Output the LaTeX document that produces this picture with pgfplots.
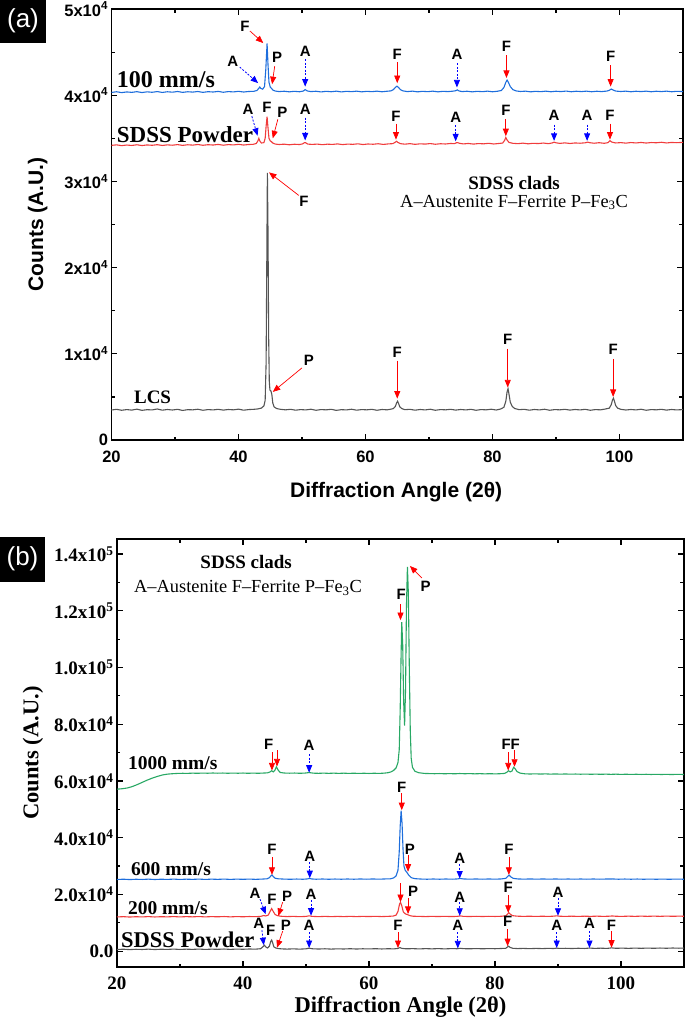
\documentclass[border=0pt]{standalone}
\usepackage{pgfplots}
\pgfplotsset{compat=1.18}
\usepackage{fontspec}
\setmainfont{Liberation Serif}
\setsansfont{Liberation Sans}
\usetikzlibrary{arrows.meta}

\definecolor{lcsgray}{RGB}{85,85,85}
\definecolor{pwdred}{RGB}{240,60,60}
\definecolor{sblue}{RGB}{30,110,220}
\definecolor{sgreen}{RGB}{40,168,100}

\newcommand{\pk}{\sffamily\bfseries\fontsize{15}{15}\selectfont}
\tikzset{
  ra/.style={red,line width=0.7pt,-{Triangle[length=7.5pt,width=6pt]}},
  ba/.style={blue,line width=0.8pt,dash pattern=on 2pt off 1.5pt,-{Triangle[length=7.5pt,width=6pt]}},
}
\pgfplotsset{
  xrdaxis/.style={
    scale only axis,
    xmin=20, xmax=110,
    xtick={20,40,60,80,100},
    xticklabels={20,40,60,80,100},
    minor xtick={30,50,70,90},
    scaled y ticks=false,
    tick align=inside,
    tick pos=both,
    major tick length=6pt,
    minor tick length=3.5pt,
    every tick/.style={black,line width=1.2pt},
    axis line style={line width=1.5pt},
    clip=false,
  },
}

\begin{document}
\begin{tikzpicture}
\useasboundingbox (0,0) rectangle (685pt,-1018pt);

% ---------------- panel (a)
\begin{axis}[
    xrdaxis,
    at={(111.5pt,-440pt)}, anchor=south west,
    width=571.5pt, height=431pt,
    ymin=0, ymax=50000,
    ytick={0,10000,20000,30000,40000,50000},
    yticklabels={0,1x10\textsuperscript{4},2x10\textsuperscript{4},3x10\textsuperscript{4},4x10\textsuperscript{4},5x10\textsuperscript{4}},
    minor ytick={5000,15000,25000,35000,45000},
    tick label style={font=\sffamily\bfseries\fontsize{16.5}{16.5}\selectfont},
    xticklabel style={yshift=-7pt},
    xlabel={Diffraction Angle (2θ)},
    ylabel={Counts (A.U.)},
    label style={font=\sffamily\bfseries\fontsize{21}{21}\selectfont},
    xlabel style={at={(axis description cs:0.498,-0.121)}, anchor=center},
    ylabel style={at={(axis description cs:-0.129,0.5)}, anchor=center},
]

% LCS
\addplot[lcsgray, line width=1.1pt] coordinates {
(20,3480) (20.8,3560) (21.6,3450) (22.4,3530) (23.2,3470) (24,3580) (24.8,3440) (25.6,3520)
(26.4,3490) (27.2,3600) (28,3460) (28.8,3540) (29.6,3480) (30.4,3560) (31.2,3430) (32,3520)
(32.8,3500) (33.6,3570) (34.4,3450) (35.2,3530) (36,3490) (36.8,3560) (37.6,3470) (38.4,3540)
(39.2,3500) (40,3580) (40.8,3460) (41.6,3530) (42.4,3560) (43,3600) (43.6,3700) (44,3950)
(44.2,4600) (44.35,9000) (44.45,20000) (44.55,31000) (44.65,24000) (44.75,12000) (44.85,6800)
(44.95,5800) (45.1,5700) (45.25,5300) (45.4,4300) (45.6,3850) (46,3650) (46.6,3560) (47.4,3500)
(48.2,3560) (49,3460) (49.8,3530) (50.6,3490) (51.4,3570) (52.2,3450) (53,3530) (53.8,3500)
(54.6,3560) (55.4,3440) (56.2,3520) (57,3490) (57.8,3570) (58.6,3460) (59.4,3530) (60.2,3500)
(61,3560) (61.8,3450) (62.6,3540) (63.4,3500) (64,3580) (64.4,3650) (64.7,3900) (64.9,4300)
(65.05,4500) (65.2,4250) (65.4,3850) (65.7,3650) (66.2,3520) (67,3560) (67.8,3460) (68.6,3540)
(69.4,3490) (70.2,3570) (71,3450) (71.8,3530) (72.6,3500) (73.4,3560) (74.2,3470) (75,3540)
(75.8,3490) (76.6,3560) (77.4,3450) (78.2,3530) (79,3500) (79.8,3570) (80.6,3480) (81.3,3600)
(81.8,3800) (82.1,4500) (82.3,5600) (82.45,5950) (82.6,5300) (82.8,4400) (83.1,3900) (83.5,3650)
(84.2,3520) (85,3560) (85.8,3460) (86.6,3540) (87.4,3490) (88.2,3570) (89,3450) (89.8,3530)
(90.6,3500) (91.4,3560) (92.2,3470) (93,3540) (93.8,3490) (94.6,3560) (95.4,3450) (96.2,3530)
(97,3500) (97.8,3600) (98.4,3700) (98.7,4100) (98.9,4650) (99.05,4850) (99.2,4500) (99.4,4000)
(99.7,3700) (100.2,3560) (101,3480) (101.8,3540) (102.6,3490) (103.4,3570) (104.2,3450)
(105,3530) (105.8,3500) (106.6,3560) (107.4,3470) (108.2,3540) (109,3490) (110,3530)
};

% SDSS powder
\addplot[pwdred, line width=1.1pt] coordinates {
(20,34180) (20.8,34240) (21.6,34150) (22.4,34220) (23.2,34170) (24,34250) (24.8,34160)
(25.6,34230) (26.4,34190) (27.2,34260) (28,34170) (28.8,34240) (29.6,34200) (30.4,34270)
(31.2,34180) (32,34250) (32.8,34210) (33.6,34280) (34.4,34190) (35.2,34260) (36,34220)
(36.8,34290) (37.6,34200) (38.4,34270) (39.2,34230) (40,34300) (40.8,34220) (41.6,34280)
(42.3,34300) (42.8,34400) (43.05,34700) (43.2,35000) (43.35,34700) (43.6,34450) (44,34500)
(44.2,35000) (44.35,36400) (44.5,37500) (44.65,36200) (44.8,35000) (45.0,34700) (45.2,34600)
(45.4,34450) (45.8,34330) (46.4,34280) (47.2,34320) (48,34250) (48.8,34310) (49.6,34280)
(50.1,34350) (50.4,34500) (50.6,34480) (50.9,34330) (51.6,34290) (52.4,34330) (53.2,34260)
(54,34320) (54.8,34290) (55.6,34350) (56.4,34270) (57.2,34330) (58,34300) (58.8,34360)
(59.6,34280) (60.4,34340) (61.2,34310) (62,34370) (62.8,34290) (63.6,34350) (64.3,34380)
(64.7,34550) (64.9,34650) (65.1,34520) (65.5,34380) (66.2,34320) (67,34380) (67.8,34300)
(68.6,34360) (69.4,34330) (70.2,34390) (71,34310) (71.8,34370) (72.6,34340) (73.4,34400)
(74.0,34380) (74.3,34480) (74.5,34500) (74.8,34420) (75.4,34350) (76.2,34400) (77,34330)
(77.8,34390) (78.6,34360) (79.4,34420) (80.2,34340) (81,34400) (81.6,34450) (81.9,34750)
(82.1,35100) (82.3,34800) (82.6,34520) (83.2,34420) (84,34380) (84.8,34440) (85.6,34360)
(86.4,34420) (87.2,34390) (88,34450) (88.8,34380) (89.4,34460) (89.7,34550) (90,34480)
(90.6,34410) (91.4,34470) (92.2,34400) (93,34460) (93.8,34430) (94.6,34480) (95,34560)
(95.3,34490) (96,34430) (96.8,34490) (97.6,34420) (98.2,34500) (98.5,34720) (98.8,34560)
(99.4,34460) (100.2,34500) (101,34440) (101.8,34510) (102.6,34460) (103.4,34520) (104.2,34450)
(105,34510) (105.8,34480) (106.6,34540) (107.4,34460) (108.2,34520) (109,34490) (110,34530)
};

% 100 mm/s
\addplot[sblue, line width=1.1pt] coordinates {
(20,40320) (20.8,40400) (21.6,40300) (22.4,40380) (23.2,40330) (24,40410) (24.8,40310)
(25.6,40390) (26.4,40340) (27.2,40420) (28,40320) (28.8,40400) (29.6,40350) (30.4,40430)
(31.2,40330) (32,40400) (32.8,40360) (33.6,40430) (34.4,40330) (35.2,40410) (36,40370)
(36.8,40440) (37.6,40340) (38.4,40420) (39.2,40380) (40,40450) (40.8,40370) (41.6,40430)
(42.4,40450) (42.9,40550) (43.2,40800) (43.35,40950) (43.5,40800) (43.8,40700) (44.1,41000)
(44.3,43000) (44.5,46000) (44.65,43500) (44.8,41500) (45.0,40950) (45.2,40800) (45.4,40600)
(45.8,40480) (46.4,40420) (47.2,40460) (48,40390) (48.8,40450) (49.6,40400) (50.2,40480)
(50.5,40650) (50.8,40500) (51.4,40420) (52.2,40460) (53,40380) (53.8,40450) (54.6,40400)
(55.4,40470) (56.2,40380) (57,40450) (57.8,40410) (58.6,40470) (59.4,40390) (60.2,40450)
(61,40410) (61.8,40470) (62.6,40400) (63.4,40460) (64.0,40500) (64.4,40650) (64.7,40900)
(64.95,41050) (65.2,40900) (65.5,40650) (65.9,40500) (66.6,40420) (67.4,40470) (68.2,40390)
(69,40450) (69.8,40410) (70.6,40470) (71.4,40390) (72.2,40450) (73,40420) (73.8,40470)
(74.2,40520) (74.45,40620) (74.7,40500) (75.2,40420) (76,40460) (76.8,40390) (77.6,40450)
(78.4,40410) (79.2,40470) (80,40400) (80.8,40460) (81.4,40550) (81.8,40900) (82.1,41500)
(82.3,41750) (82.5,41500) (82.8,41000) (83.2,40650) (83.7,40500) (84.4,40430) (85.2,40470)
(86,40390) (86.8,40450) (87.6,40410) (88.4,40470) (89.2,40400) (90,40460) (90.8,40420)
(91.6,40480) (92.4,40400) (93.2,40460) (94,40420) (94.8,40470) (95.6,40400) (96.4,40460)
(97.2,40420) (98,40480) (98.4,40570) (98.7,40720) (99.0,40600) (99.4,40480) (100.2,40430)
(101,40470) (101.8,40400) (102.6,40460) (103.4,40420) (104.2,40470) (105,40400) (105.8,40460)
(106.6,40420) (107.4,40470) (108.2,40400) (109,40450) (110,40420)
};

% sample names
\node[anchor=west, font=\bfseries\fontsize{24}{24}\selectfont] at (axis cs:20.3,41860) {100 mm/s};
\node[anchor=west, font=\bfseries\fontsize{23}{23}\selectfont] at (axis cs:20.3,35470) {SDSS Powder};
\node[anchor=west, font=\bfseries\fontsize{19}{19}\selectfont] at (axis cs:23.0,5000) {LCS};
\node[font=\bfseries\fontsize{19}{19}\selectfont] at (axis cs:83.4,29770) {SDSS clads};
\node[font=\fontsize{18.4}{18.4}\selectfont] at (axis cs:83.4,27560) {A--Austenite F--Ferrite P--Fe\textsubscript{3}C};

% peak labels, 100 mm/s
\node[font=\pk] at (axis cs:41.0,48000) {F};
\draw[ra] (axis cs:41.8,47450) -- (axis cs:43.9,46050);
\node[font=\pk] at (axis cs:39.1,43950) {A};
\draw[ba] (axis cs:40.2,43260) -- (axis cs:43.1,41400);
\node[font=\pk] at (axis cs:46.1,44420) {P};
\draw[ra] (axis cs:45.7,43370) -- (axis cs:45.3,41280);
\node[font=\pk] at (axis cs:50.5,45120) {A};
\draw[ba] (axis cs:50.5,44200) -- (axis cs:50.5,41000);
\node[font=\pk] at (axis cs:65.0,44770) {F};
\draw[ra] (axis cs:65.0,43800) -- (axis cs:65.0,41400);
\node[font=\pk] at (axis cs:74.4,44770) {A};
\draw[ba] (axis cs:74.4,43700) -- (axis cs:74.4,40900);
\node[font=\pk] at (axis cs:82.2,45700) {F};
\draw[ra] (axis cs:82.2,44650) -- (axis cs:82.2,42000);
\node[font=\pk] at (axis cs:98.6,44540) {F};
\draw[ra] (axis cs:98.6,43500) -- (axis cs:98.6,41000);

% peak labels, SDSS powder
\node[font=\pk] at (axis cs:41.5,38370) {A};
\draw[ba] (axis cs:42.1,37560) -- (axis cs:43.0,35300);
\node[font=\pk] at (axis cs:44.5,38600) {F};
\node[font=\pk] at (axis cs:46.9,38020) {P};
\draw[ra] (axis cs:46.2,37210) -- (axis cs:45.4,35000);
\node[font=\pk] at (axis cs:50.5,38370) {A};
\draw[ba] (axis cs:50.5,37400) -- (axis cs:50.5,34750);
\node[font=\pk] at (axis cs:64.8,37560) {F};
\draw[ra] (axis cs:64.8,36700) -- (axis cs:64.8,34850);
\node[font=\pk] at (axis cs:74.2,37440) {A};
\draw[ba] (axis cs:74.2,36500) -- (axis cs:74.2,34650);
\node[font=\pk] at (axis cs:82.1,38260) {F};
\draw[ra] (axis cs:82.1,37200) -- (axis cs:82.1,35250);
\node[font=\pk] at (axis cs:89.7,37670) {A};
\draw[ba] (axis cs:89.7,36600) -- (axis cs:89.7,34700);
\node[font=\pk] at (axis cs:94.9,37670) {A};
\draw[ba] (axis cs:94.9,36600) -- (axis cs:94.9,34700);
\node[font=\pk] at (axis cs:98.5,37670) {F};
\draw[ra] (axis cs:98.5,36700) -- (axis cs:98.5,34850);

% peak labels, LCS
\node[font=\pk] at (axis cs:50.3,27670) {F};
\draw[ra] (axis cs:49.5,28370) -- (axis cs:44.8,31050);
\node[font=\pk] at (axis cs:51.1,9300) {P};
\draw[ra] (axis cs:50.0,8370) -- (axis cs:45.4,5580);
\node[font=\pk] at (axis cs:65.0,10120) {F};
\draw[ra] (axis cs:65.0,9200) -- (axis cs:65.0,4800);
\node[font=\pk] at (axis cs:82.4,11630) {F};
\draw[ra] (axis cs:82.4,10600) -- (axis cs:82.4,6100);
\node[font=\pk] at (axis cs:99.0,10470) {F};
\draw[ra] (axis cs:99.0,9400) -- (axis cs:99.0,5000);
\end{axis}

% ---------------- panel (b)
\begin{axis}[
    xrdaxis,
    at={(117pt,-967pt)}, anchor=south west,
    width=567pt, height=428pt,
    ymin=-5600, ymax=145300,
    ytick={0,20000,40000,60000,80000,100000,120000,140000},
    yticklabels={0.0,2.0x10\textsuperscript{4},4.0x10\textsuperscript{4},6.0x10\textsuperscript{4},8.0x10\textsuperscript{4},1.0x10\textsuperscript{5},1.2x10\textsuperscript{5},1.4x10\textsuperscript{5}},
    minor ytick={10000,30000,50000,70000,90000,110000,130000},
    tick label style={font=\bfseries\fontsize{19}{19}\selectfont},
    xticklabel style={yshift=-6pt},
    xlabel={Diffraction Angle (2θ)},
    ylabel={Counts (A.U.)},
    label style={font=\bfseries\fontsize{22.5}{22.5}\selectfont},
    xlabel style={at={(axis description cs:0.5,-0.093)}, anchor=center},
    ylabel style={at={(axis description cs:-0.148,0.5)}, anchor=center},
]

% SDSS powder
\addplot[lcsgray, line width=1.1pt] coordinates {
(20,560) (21,680) (22,540) (23,650) (24,580) (25,700) (26,560) (27,670) (28,610) (29,720)
(30,590) (31,690) (32,620) (33,730) (34,600) (35,700) (36,640) (37,740) (38,620) (39,720)
(40,660) (41,750) (42,700) (42.8,850) (43.2,1600) (43.4,2100) (43.6,1500) (43.9,1100)
(44.2,1800) (44.4,3400) (44.55,3900) (44.7,3000) (44.9,1500) (45.2,1100) (45.6,900) (46.2,780)
(47,720) (48,800) (49,700) (50,820) (50.5,1050) (51,830) (52,740) (53,830) (54,720) (55,810)
(56,750) (57,850) (58,740) (59,830) (60,770) (61,860) (62,760) (63,840) (64,800) (64.6,950)
(64.9,1250) (65.2,980) (65.8,830) (67,870) (68,780) (69,880) (70,800) (71,890) (72,790)
(73,880) (74,850) (74.5,1000) (75,870) (76,820) (77,910) (78,820) (79,900) (80,850) (81,930)
(81.7,1000) (82.0,1500) (82.15,1750) (82.4,1300) (82.8,1000) (83.6,900) (84.5,960) (85.5,870)
(86.5,960) (87.5,890) (88.5,980) (89.3,920) (89.8,1050) (90.3,950) (91.2,1000) (92.2,920)
(93.2,1010) (94.2,940) (95,1080) (95.8,970) (96.8,1040) (97.8,960) (98.5,1150) (99.2,1000)
(100.2,1060) (101.2,980) (102.2,1070) (103.2,990) (104.2,1080) (105.2,1000) (106.2,1090)
(107.2,1010) (108.2,1100) (109.2,1030) (110,1090)
};

% 200 mm/s
\addplot[pwdred, line width=1.1pt] coordinates {
(20,12050) (21,12150) (22,12020) (23,12130) (24,12060) (25,12170) (26,12040) (27,12140)
(28,12080) (29,12180) (30,12060) (31,12160) (32,12090) (33,12190) (34,12070) (35,12170)
(36,12100) (37,12200) (38,12080) (39,12180) (40,12110) (41,12200) (42,12150) (42.8,12250)
(43.3,12550) (43.6,12400) (44.0,12700) (44.3,14000) (44.55,15000) (44.8,14000) (45.1,12900)
(45.5,12500) (46,12300) (47,12180) (48,12250) (49,12150) (50,12240) (50.5,12450) (51,12250)
(52,12160) (53,12250) (54,12160) (55,12240) (56,12170) (57,12260) (58,12170) (59,12250)
(60,12190) (61,12270) (62,12180) (63,12260) (63.8,12350) (64.3,12700) (64.6,14000)
(64.85,16600) (65.0,17200) (65.2,16000) (65.45,13800) (65.8,13100) (66.1,12900) (66.5,12500)
(67,12300) (68,12250) (69,12180) (70,12260) (71,12190) (72,12270) (73,12190) (74,12250)
(74.5,12420) (75,12250) (76,12200) (77,12280) (78,12200) (79,12280) (80,12220) (81,12290)
(81.7,12450) (82.0,13100) (82.2,13500) (82.45,13000) (82.8,12500) (83.5,12330) (84.5,12250)
(85.5,12310) (86.5,12230) (87.5,12310) (88.5,12240) (89.3,12330) (89.8,12450) (90.3,12300)
(91.2,12250) (92.2,12320) (93.2,12240) (94.2,12320) (95.2,12260) (96.2,12330) (97.2,12250)
(98.2,12320) (98.6,12400) (99.2,12290) (100.2,12260) (101.2,12330) (102.2,12260) (103.2,12340)
(104.2,12270) (105.2,12340) (106.2,12270) (107.2,12350) (108.2,12280) (109.2,12340) (110,12300)
};

% 600 mm/s
\addplot[sblue, line width=1.1pt] coordinates {
(20,25250) (21,25360) (22,25230) (23,25340) (24,25270) (25,25380) (26,25250) (27,25350)
(28,25290) (29,25390) (30,25270) (31,25370) (32,25300) (33,25400) (34,25280) (35,25380)
(36,25310) (37,25400) (38,25290) (39,25390) (40,25320) (41,25400) (42,25310) (43,25400)
(43.8,25500) (44.2,25900) (44.45,26600) (44.6,26850) (44.8,26300) (45.1,25700) (45.6,25500)
(46.5,25400) (47.5,25330) (48.5,25420) (49.5,25340) (50.2,25450) (50.55,25650) (50.9,25450)
(51.6,25350) (52.6,25430) (53.6,25340) (54.6,25420) (55.6,25350) (56.6,25430) (57.6,25350)
(58.6,25440) (59.6,25360) (60.6,25440) (61.6,25370) (62.6,25450) (63.4,25500) (63.9,25800)
(64.3,26500) (64.6,28500) (64.8,35000) (64.95,44000) (65.1,49500) (65.25,45000) (65.4,36000)
(65.55,30000) (65.75,28500) (66.0,27800) (66.3,26800) (66.7,25900) (67.3,25550) (68.2,25420)
(69.2,25350) (70.2,25430) (71.2,25350) (72.2,25430) (73.2,25360) (74.0,25450) (74.5,25600)
(75.0,25450) (76,25370) (77,25440) (78,25360) (79,25440) (80,25370) (81,25450) (81.7,25650)
(82.0,26300) (82.25,26800) (82.5,26200) (82.9,25650) (83.6,25450) (84.6,25380) (85.6,25450)
(86.6,25370) (87.6,25440) (88.6,25370) (89.6,25440) (90.6,25360) (91.6,25430) (92.6,25360)
(93.6,25430) (94.6,25360) (95.6,25430) (96.6,25360) (97.6,25420) (98.6,25450) (99.6,25350)
(100.6,25420) (101.6,25350) (102.6,25420) (103.6,25340) (104.6,25410) (105.6,25340)
(106.6,25410) (107.6,25330) (108.6,25400) (110,25350)
};

% 1000 mm/s
\addplot[sgreen, line width=1.1pt] coordinates {
(20,57100) (20.8,57250) (21.6,57500) (22.4,58000) (23.2,58700) (24,59500) (24.8,60300)
(25.6,61000) (26.4,61600) (27.2,62100) (28,62400) (28.8,62550) (29.6,62650) (30.4,62700)
(31.2,62680) (32,62750) (32.8,62700) (33.6,62780) (34.4,62720) (35.2,62800) (36,62730)
(36.8,62790) (37.6,62710) (38.4,62780) (39.2,62720) (40,62790) (40.8,62700) (41.6,62770)
(42.4,62700) (43.2,62780) (43.9,62850) (44.3,63200) (44.55,63600) (44.8,63200) (45.05,63700)
(45.3,65000) (45.55,63900) (45.9,63000) (46.5,62800) (47.4,62730) (48.2,62790) (49,62700)
(49.8,62770) (50.5,62950) (51.2,62740) (52,62690) (52.8,62760) (53.6,62680) (54.4,62750)
(55.2,62670) (56,62740) (56.8,62660) (57.6,62730) (58.4,62650) (59.2,62720) (60,62640)
(60.8,62720) (61.6,62660) (62.4,62750) (63.0,62900) (63.5,63200) (63.9,63700) (64.3,64600)
(64.6,66500) (64.8,71000) (64.95,85000) (65.1,105000) (65.2,116000) (65.35,108000)
(65.5,88000) (65.65,79500) (65.8,92000) (65.95,122000) (66.1,135500) (66.25,126000)
(66.4,100000) (66.55,78000) (66.7,68000) (66.9,64800) (67.3,63400) (67.9,62900) (68.8,62650)
(69.6,62600) (70.4,62550) (71.2,62610) (72,62530) (72.8,62590) (73.6,62520) (74.4,62620)
(75.2,62540) (76,62590) (76.8,62510) (77.6,62570) (78.4,62500) (79.2,62560) (80,62490)
(80.8,62550) (81.5,62650) (81.9,63100) (82.15,63600) (82.4,63200) (82.7,63500) (82.95,64800)
(83.2,64300) (83.5,63300) (84,62750) (84.8,62500) (85.6,62450) (86.4,62510) (87.2,62430)
(88,62490) (88.8,62410) (89.6,62470) (90.4,62400) (91.2,62460) (92,62380) (92.8,62440)
(93.6,62370) (94.4,62430) (95.2,62350) (96,62410) (96.8,62340) (97.6,62400) (98.4,62330)
(99.2,62390) (100,62310) (100.8,62370) (101.6,62300) (102.4,62360) (103.2,62290) (104,62350)
(104.8,62280) (105.6,62340) (106.4,62270) (107.2,62330) (108,62260) (108.8,62320) (110,62280)
};

% sample names
\node[anchor=west, font=\bfseries\fontsize{19.5}{19.5}\selectfont] at (axis cs:21.2,66300) {1000 mm/s};
\node[anchor=west, font=\bfseries\fontsize{19.5}{19.5}\selectfont] at (axis cs:21.7,28920) {600 mm/s};
\node[anchor=west, font=\bfseries\fontsize{19.5}{19.5}\selectfont] at (axis cs:21.2,15170) {200 mm/s};
\node[anchor=west, font=\bfseries\fontsize{22.5}{22.5}\selectfont] at (axis cs:20.1,3880) {SDSS Powder};
\node[font=\bfseries\fontsize{19}{19}\selectfont] at (axis cs:40.5,137200) {SDSS clads};
\node[font=\fontsize{18.4}{18.4}\selectfont] at (axis cs:40.8,128000) {A--Austenite F--Ferrite P--Fe\textsubscript{3}C};

% peak labels, 1000 mm/s
\node[font=\pk] at (axis cs:44.1,73000) {F};
\draw[ra] (axis cs:44.6,70190) -- (axis cs:44.6,63700);
\draw[ra] (axis cs:45.4,70900) -- (axis cs:45.4,65100);
\node[font=\pk] at (axis cs:50.5,72660) {A};
\draw[ba] (axis cs:50.5,69480) -- (axis cs:50.5,62900);
\node[font=\pk] at (axis cs:82.5,73000) {FF};
\draw[ra] (axis cs:82.1,70190) -- (axis cs:82.1,63700);
\draw[ra] (axis cs:83.1,70900) -- (axis cs:83.1,65000);
\node[font=\pk] at (axis cs:65.1,125900) {F};
\draw[ra] (axis cs:65.0,122400) -- (axis cs:65.0,116700);
\node[font=\pk] at (axis cs:69.0,128700) {P};
\draw[ra] (axis cs:68.4,131560) -- (axis cs:66.5,135800);

% peak labels, 600 mm/s
\node[font=\pk] at (axis cs:44.6,35980) {F};
\draw[ra] (axis cs:44.6,33150) -- (axis cs:44.6,26900);
\node[font=\pk] at (axis cs:50.6,33500) {A};
\draw[ba] (axis cs:50.6,31390) -- (axis cs:50.6,25700);
\node[font=\pk] at (axis cs:65.2,57840) {F};
\draw[ra] (axis cs:65.2,55730) -- (axis cs:65.2,49700);
\node[font=\pk] at (axis cs:66.5,35980) {P};
\draw[ra] (axis cs:66.2,33860) -- (axis cs:66.2,28000);
\node[font=\pk] at (axis cs:74.4,32800) {A};
\draw[ba] (axis cs:74.4,30700) -- (axis cs:74.4,25600);
\node[font=\pk] at (axis cs:82.2,35980) {F};
\draw[ra] (axis cs:82.2,33150) -- (axis cs:82.2,26900);

% peak labels, 200 mm/s
\node[font=\pk] at (axis cs:41.9,20460) {A};
\draw[ba] (axis cs:42.7,18340) -- (axis cs:43.6,13000);
\node[font=\pk] at (axis cs:44.6,18340) {F};
\node[font=\pk] at (axis cs:47.0,19400) {P};
\draw[ra] (axis cs:46.3,17280) -- (axis cs:45.6,12400);
\node[font=\pk] at (axis cs:50.8,20100) {A};
\draw[ba] (axis cs:50.8,17990) -- (axis cs:50.8,12500);
\draw[ra] (axis cs:65.0,23980) -- (axis cs:65.0,17300);
\node[font=\pk] at (axis cs:67.0,21160) {P};
\draw[ra] (axis cs:66.2,18690) -- (axis cs:66.2,13100);
\node[font=\pk] at (axis cs:74.4,19050) {A};
\draw[ba] (axis cs:74.4,17280) -- (axis cs:74.4,12450);
\node[font=\pk] at (axis cs:82.1,22570) {F};
\draw[ra] (axis cs:82.1,19750) -- (axis cs:82.1,13500);
\node[font=\pk] at (axis cs:90.0,20810) {A};
\draw[ba] (axis cs:90.0,18690) -- (axis cs:90.0,12450);

% peak labels, SDSS powder
\node[font=\pk] at (axis cs:42.5,9880) {A};
\draw[ba] (axis cs:43.0,7400) -- (axis cs:43.3,2100);
\node[font=\pk] at (axis cs:44.4,7400) {F};
\node[font=\pk] at (axis cs:46.8,9170) {P};
\draw[ra] (axis cs:46.3,7050) -- (axis cs:45.4,1200);
\node[font=\pk] at (axis cs:50.5,9170) {A};
\draw[ba] (axis cs:50.5,6700) -- (axis cs:50.5,1100);
\node[font=\pk] at (axis cs:64.6,9170) {F};
\draw[ra] (axis cs:64.6,6700) -- (axis cs:64.6,1100);
\node[font=\pk] at (axis cs:74.1,9170) {A};
\draw[ba] (axis cs:74.1,6700) -- (axis cs:74.1,950);
\node[font=\pk] at (axis cs:82.0,10580) {F};
\draw[ra] (axis cs:82.0,7760) -- (axis cs:82.0,1750);
\node[font=\pk] at (axis cs:89.8,9170) {A};
\draw[ba] (axis cs:89.8,6700) -- (axis cs:89.8,1100);
\node[font=\pk] at (axis cs:95.0,9880) {A};
\draw[ba] (axis cs:95.0,7050) -- (axis cs:95.0,1100);
\node[font=\pk] at (axis cs:98.5,9170) {F};
\draw[ra] (axis cs:98.5,7050) -- (axis cs:98.5,1200);
\end{axis}

% panel tags
\fill[black] (0,0) rectangle (46pt,-43pt);
\node[white, font=\sffamily\fontsize{26}{26}\selectfont] at (23pt,-21pt) {(a)};
\fill[black] (0,-537pt) rectangle (45pt,-582pt);
\node[white, font=\sffamily\fontsize{26}{26}\selectfont] at (22.5pt,-559pt) {(b)};
\end{tikzpicture}
\end{document}
